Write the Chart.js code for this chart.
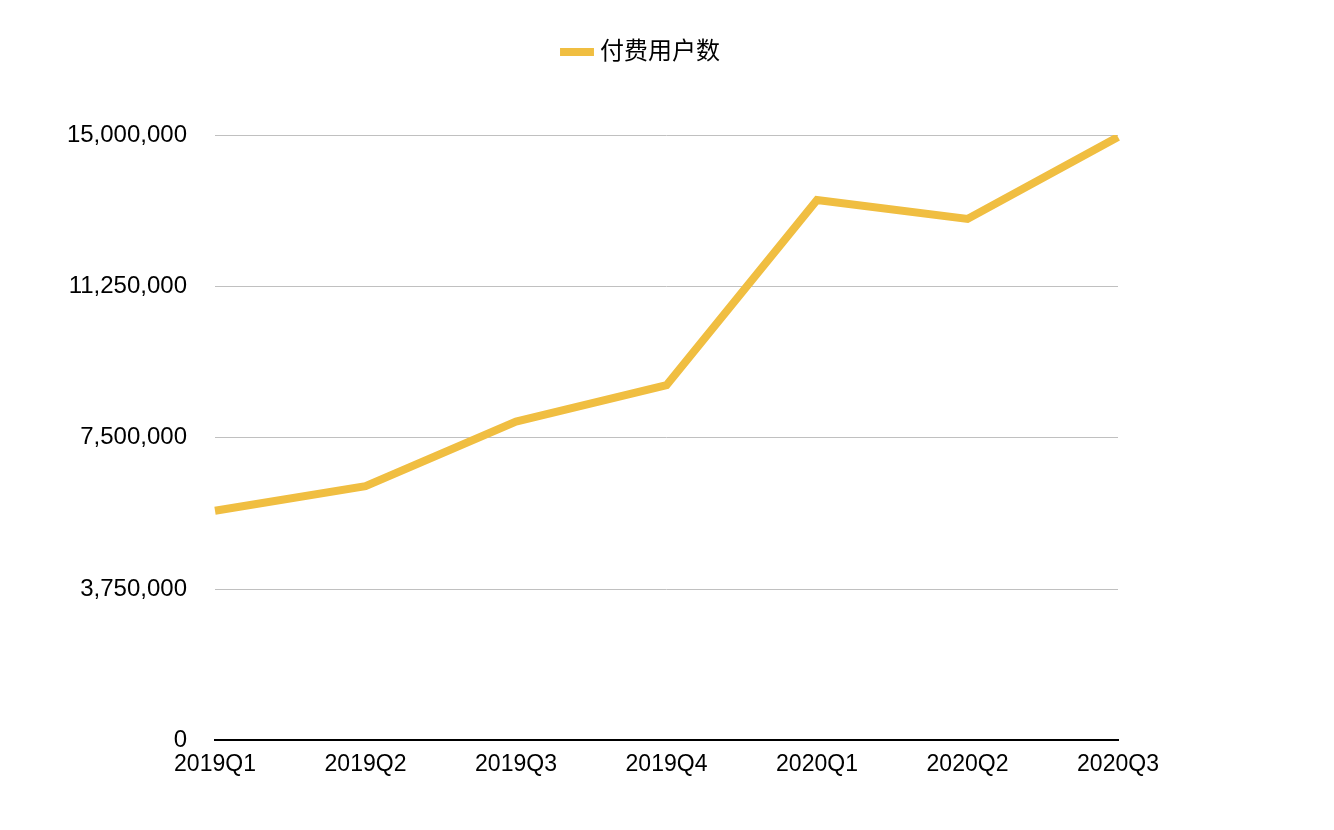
<!DOCTYPE html>
<html>
<head>
<meta charset="utf-8">
<script src="https://cdn.jsdelivr.net/npm/chart.js@4"></script>
<style>
  html, body { margin: 0; padding: 0; background: #fff; }
  #wrap { width: 1334px; height: 830px; }
</style>
</head>
<body>
<div id="wrap"><canvas id="chart" width="1334" height="830"></canvas></div>
<script>
// Données
const categories = ['2019Q1', '2019Q2', '2019Q3', '2019Q4', '2020Q1', '2020Q2', '2020Q3'];
const paidUsers = [5690000, 6300000, 7900000, 8800000, 13390000, 12920000, 14950000];
const yTicks = [0, 3750000, 7500000, 11250000, 15000000];

const fontFamily = "'Liberation Sans', Arial, 'Noto Sans CJK SC', sans-serif";

// Agrandir l'espace sous la légende et la recentrer sur la page
const legendSpacer = {
    id: 'legendSpacer',
    beforeInit(chart) {
        const fit = chart.legend.fit;
        chart.legend.fit = function () {
            fit.bind(chart.legend)();
            this.height += 61;
        };
    },
    afterLayout(chart) {
        chart.legend.left += 84;
        chart.legend.right += 84;
    }
};

new Chart(document.getElementById('chart').getContext('2d'), {
    type: 'line',
    data: {
        labels: categories,
        datasets: [{
            label: '付费用户数',
            data: paidUsers,
            borderColor: '#F0BE41',
            backgroundColor: '#F0BE41',
            borderWidth: 8,
            pointRadius: 0,
            tension: 0,
            fill: false
        }]
    },
    options: {
        responsive: false,
        animation: false,
        layout: { padding: { top: 30, left: 0, right: 216, bottom: 42 } },
        plugins: {
            legend: {
                labels: {
                    usePointStyle: true,
                    pointStyle: 'line',
                    boxWidth: 22,
                    padding: 10,
                    color: '#000',
                    font: { family: fontFamily, size: 24 }
                }
            },
            tooltip: { enabled: false }
        },
        scales: {
            x: {
                offset: false,
                grid: { display: false, drawTicks: false },
                border: { color: '#000', width: 2 },
                ticks: { color: '#000', font: { family: fontFamily, size: 23 }, padding: 10, maxRotation: 0 }
            },
            y: {
                min: 0,
                max: 15000000,
                afterFit: scale => { scale.width = 215; },
                afterBuildTicks: scale => { scale.ticks = yTicks.map(v => ({ value: v })); },
                grid: { color: '#c0c0c0', drawTicks: false },
                border: { display: false },
                ticks: {
                    color: '#000',
                    font: { family: fontFamily, size: 24 },
                    padding: 28,
                    callback: v => v.toLocaleString('en-US')
                }
            }
        }
    },
    plugins: [legendSpacer]
});
</script>
</body>
</html>
